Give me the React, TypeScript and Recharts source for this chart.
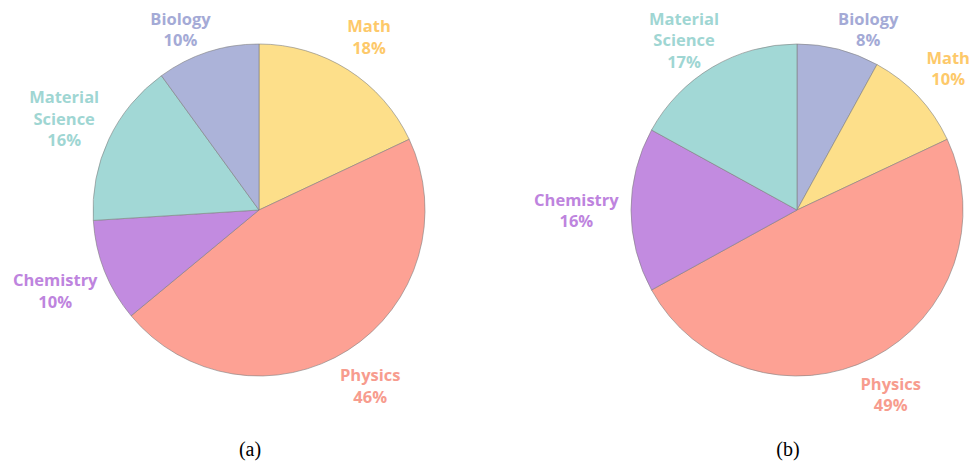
import React from "react";
import { PieChart, Pie, Cell } from "recharts";

// (a) clockwise from 12 o'clock
const namesA = ["Math", "Physics", "Chemistry", "Material Science", "Biology"];
const valuesA = [18, 46, 10, 16, 10];

// (b) clockwise from 12 o'clock
const namesB = ["Biology", "Math", "Physics", "Chemistry", "Material Science"];
const valuesB = [8, 10, 49, 16, 17];

const captions = ["(a)", "(b)"];

const fills: Record<string, string> = {
  Math: "#fddf8a",
  Physics: "#fda194",
  Chemistry: "#c28be0",
  "Material Science": "#a2d8d6",
  Biology: "#acb3d9",
};

const labelColors: Record<string, string> = {
  Math: "#fdc96a",
  Physics: "#f79c8e",
  Chemistry: "#be84de",
  "Material Science": "#9fd6d3",
  Biology: "#a4aad6",
};

const FONT = "bold 16.5px 'Open Sans'";
const LINE_H = 21.5;
const TOP_MIN = 18; // first line can't go above this

let ctx: CanvasRenderingContext2D | null = null;
function textWidth(s: string) {
  if (!ctx) ctx = document.createElement("canvas").getContext("2d");
  if (!ctx) return s.length * 9.5;
  ctx.font = FONT;
  return ctx.measureText(s).width;
}

const RAD = Math.PI / 180;

// label block outside the slice along its mid angle, pushed down if it hits the top
function renderLabel(props: any) {
  const { cx, cy, midAngle, outerRadius, name, percent } = props;
  const lines = [...String(name).split(" "), `${Math.round(percent * 100)}%`];
  const w = Math.max(...lines.map(textWidth));
  const ux = Math.cos(-midAngle * RAD);
  const uy = Math.sin(-midAngle * RAD);
  const d = outerRadius + 33.5 + 0.25 * Math.abs(ux) * w;
  let x = cx + ux * d;
  let y = cy + uy * d;
  const yMin = TOP_MIN + ((lines.length - 1) * LINE_H) / 2;
  if (y < yMin) {
    const dy = yMin - cy;
    const slide = Math.sign(ux) * Math.sqrt(Math.max(d * d - dy * dy, 0));
    x = cx + (ux * d + slide) / 2;
    y = yMin;
  }
  const top = y - ((lines.length - 1) * LINE_H) / 2;
  return (
    <g>
      {lines.map((l, i) => (
        <text
          key={i}
          x={x}
          y={top + i * LINE_H}
          textAnchor="middle"
          dominantBaseline="central"
          fill={labelColors[name]}
          style={{ font: FONT }}
        >
          {l}
        </text>
      ))}
    </g>
  );
}

const dataA = namesA.map((n, i) => ({ name: n, value: valuesA[i] }));
const dataB = namesB.map((n, i) => ({ name: n, value: valuesB[i] }));

const captionStyle: React.CSSProperties = {
  position: "absolute",
  top: 439,
  width: 100,
  lineHeight: "20px",
  textAlign: "center",
  fontFamily: "'Liberation Serif', 'Times New Roman', serif",
  fontSize: 20,
};

export default function App() {
  return (
    <div style={{ position: "absolute", left: 0, top: 0, width: 969, height: 461, background: "#fff" }}>
      <PieChart width={969} height={461} margin={{ top: 0, right: 0, bottom: 0, left: 0 }}>
        <Pie
          data={dataA}
          dataKey="value"
          nameKey="name"
          cx={259}
          cy={210}
          outerRadius={166}
          startAngle={90}
          endAngle={-270}
          stroke="#808080"
          strokeWidth={0.6}
          label={renderLabel}
          labelLine={false}
          isAnimationActive={false}
        >
          {dataA.map((d) => (
            <Cell key={d.name} fill={fills[d.name]} />
          ))}
        </Pie>
        <Pie
          data={dataB}
          dataKey="value"
          nameKey="name"
          cx={797}
          cy={210}
          outerRadius={166}
          startAngle={90}
          endAngle={-270}
          stroke="#808080"
          strokeWidth={0.6}
          label={renderLabel}
          labelLine={false}
          isAnimationActive={false}
        >
          {dataB.map((d) => (
            <Cell key={d.name} fill={fills[d.name]} />
          ))}
        </Pie>
      </PieChart>
      <div style={{ ...captionStyle, left: 200 }}>{captions[0]}</div>
      <div style={{ ...captionStyle, left: 738 }}>{captions[1]}</div>
    </div>
  );
}
